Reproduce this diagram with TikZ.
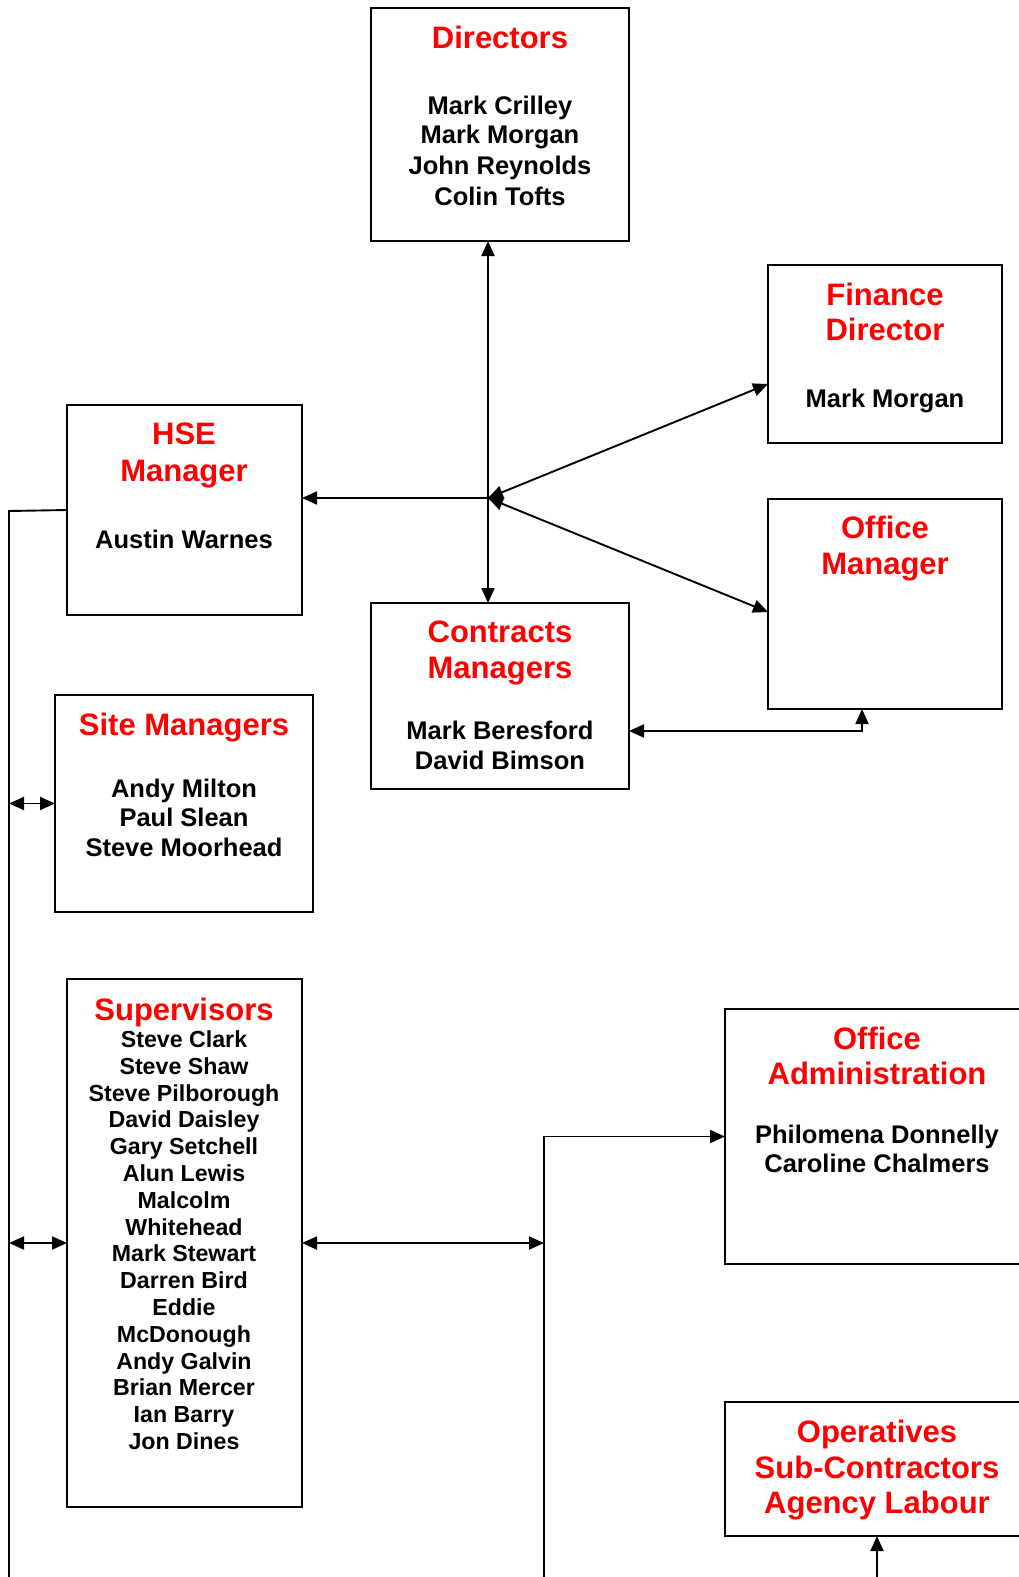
\documentclass[tikz,border=0pt]{standalone}
\usepackage{fontspec}
\setmainfont{Liberation Sans}
\usetikzlibrary{arrows.meta,calc}
\definecolor{tred}{RGB}{255,0,0}
\begin{document}
\begin{tikzpicture}[x=1pt,y=-1pt,
  box/.style={draw,line width=2pt,inner sep=0pt,outer sep=0pt},
  ttl/.style={text=tred,font=\fontsize{31}{34}\selectfont\bfseries,anchor=base,inner sep=0pt},
  nm/.style={font=\fontsize{25.5}{30}\selectfont\bfseries,anchor=base,inner sep=0pt},
  sm/.style={font=\fontsize{23.2}{27}\selectfont\bfseries,anchor=base,inner sep=0pt},
  con/.style={line width=1.9pt},
  tip/.style={-{Triangle[length=15pt,width=13pt]}},
  tips/.style={{Triangle[length=15pt,width=13pt]}-{Triangle[length=15pt,width=13pt]}}]
\path[use as bounding box,clip] (0,0) rectangle (1019,1577);
\fill[white] (0,0) rectangle (1019,1577);
% boxes
\node[box,minimum width=258pt,minimum height=233pt] (dir) at (500,124.5) {};
\node[box,minimum width=234pt,minimum height=178pt] (fin) at (885,354) {};
\node[box,minimum width=235pt,minimum height=210pt] (hse) at (184.5,510) {};
\node[box,minimum width=234pt,minimum height=210pt] (om) at (885,604) {};
\node[box,minimum width=258pt,minimum height=186pt] (cm) at (500,696) {};
\node[box,minimum width=258pt,minimum height=217pt] (site) at (184,803.5) {};
\node[box,minimum width=235pt,minimum height=528pt] (sup) at (184.5,1243) {};
\node[box,minimum width=304pt,minimum height=255pt] (oa) at (877,1136.5) {};
\node[box,minimum width=304pt,minimum height=134pt] (ops) at (877,1469) {};
% texts
\node[ttl] (d0) at (500,48) {Directors};
\node[nm] (d1) at (500,114.6) {Mark Crilley};
\node[nm] (d2) at (500,143.8) {Mark Morgan};
\node[nm] (d3) at (500,174) {John Reynolds};
\node[nm] (d4) at (500,205.2) {Colin Tofts};
\node[ttl] (f0) at (885,305) {Finance};
\node[ttl] (f1) at (885,340) {Director};
\node[nm] (f2) at (885,407) {Mark Morgan};
\node[ttl] (h0) at (184,444) {HSE};
\node[ttl] (h1) at (184,481) {Manager};
\node[nm] (h2) at (184,548) {Austin Warnes};
\node[ttl] (o0) at (885,538) {Office};
\node[ttl] (o1) at (885,574) {Manager};
\node[ttl] (c0) at (500,642) {Contracts};
\node[ttl] (c1) at (500,678) {Managers};
\node[nm] (c2) at (500,739) {Mark Beresford};
\node[nm] (c3) at (500,769.5) {David Bimson};
\node[ttl] (si0) at (184,735) {Site Managers};
\node[nm] (si1) at (184,797) {Andy Milton};
\node[nm] (si2) at (184,826) {Paul Slean};
\node[nm] (si3) at (184,856) {Steve Moorhead};
\node[ttl] (su0) at (184,1020) {Supervisors};
\foreach \t [count=\i] in {Steve Clark,Steve Shaw,Steve Pilborough,David Daisley,Gary Setchell,Alun Lewis,Malcolm,Whitehead,Mark Stewart,Darren Bird,Eddie,McDonough,Andy Galvin,Brian Mercer,Ian Barry,Jon Dines}
  \node[sm] (su\i) at (184,{1047.5+26.8*(\i-1)}) {\t};
\node[ttl] (a0) at (877,1049) {Office};
\node[ttl] (a1) at (877,1084) {Administration};
\node[nm] (a2) at (877,1143) {Philomena Donnelly};
\node[nm] (a3) at (877,1172) {Caroline Chalmers};
\node[ttl] (p0) at (877,1442) {Operatives};
\node[ttl] (p1) at (877,1478) {Sub-Contractors};
\node[ttl] (p2) at (877,1513) {Agency Labour};
% coordinates
\coordinate (hub) at (488,498);
\coordinate (lt) at (9,511);
\coordinate (lb) at (9,1577);
\coordinate (rt) at (544,1136.5);
\coordinate (rb) at (544,1577);
\coordinate (opb) at (877,1577);
% connectors
\draw[con,tip] (hub) -- (hub |- dir.south);
\draw[con,tip] (hub) -- (hub |- cm.north);
\draw[con,tip] (hub) -- (hub -| hse.east);
\draw[con,tips] (hub) -- ([yshift=-30pt]fin.west);
\draw[con,tips] (hub) -- ([yshift=-8pt]om.west);
\draw[con,tips] ([yshift=-35pt]cm.east) -| ([xshift=-23pt]om.south);
\draw[con] (hse.west) -- (lt) -- (lb);
\draw[con,tips] (site.west -| lt) -- (site.west);
\draw[con,tips] (sup.west -| lt) -- (sup.west);
\draw[con,tips] (sup.east) -- (sup.east -| rt);
\draw[con,tip] (rb) -- (rt) -- (oa.west);
\draw[con,tip] (opb) -- (ops.south);
\end{tikzpicture}
\end{document}
